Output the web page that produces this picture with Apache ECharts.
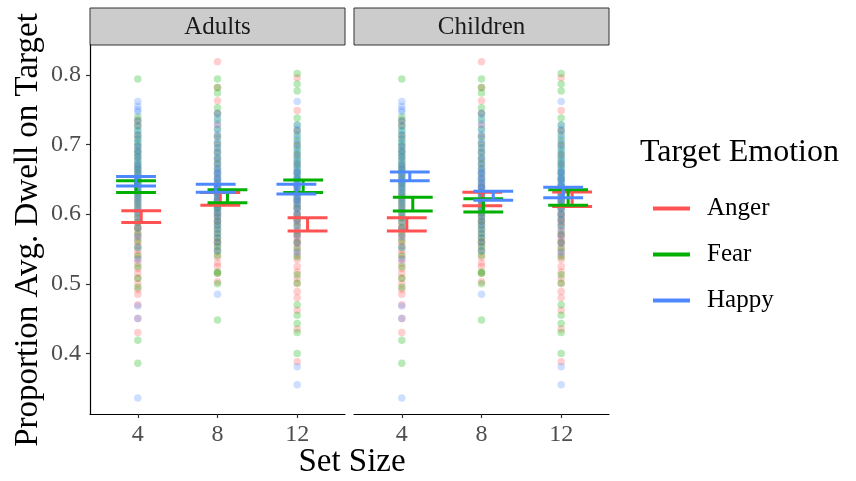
<!DOCTYPE html>
<html>
<head>
<meta charset="utf-8">
<script src="https://cdn.jsdelivr.net/npm/echarts@6/dist/echarts.min.js"></script>
<style>
  html, body { margin: 0; padding: 0; background: #fff; }
  #chart { width: 856px; height: 481px; }
</style>
</head>
<body>
<div id="chart"></div>
<script>
// set sizes on the x axis
var setSizes = [4, 8, 12];
var emotions = ['Anger', 'Fear', 'Happy'];

// raw proportions (same points are drawn in both panels)
var anger4 = [0.735, 0.728, 0.712, 0.698, 0.690, 0.682, 0.671, 0.665, 0.658, 0.650, 0.645, 0.638, 0.630, 0.624, 0.618, 0.612, 0.606, 0.600, 0.594, 0.588, 0.582, 0.576, 0.570, 0.566, 0.560, 0.555, 0.548, 0.542, 0.536, 0.530, 0.522, 0.515, 0.508, 0.500, 0.492, 0.485, 0.470, 0.450, 0.430, 0.580];
var anger8 = [0.819, 0.782, 0.763, 0.745, 0.728, 0.712, 0.700, 0.690, 0.680, 0.672, 0.664, 0.657, 0.650, 0.644, 0.638, 0.632, 0.626, 0.620, 0.614, 0.608, 0.602, 0.596, 0.590, 0.584, 0.578, 0.572, 0.566, 0.560, 0.553, 0.546, 0.538, 0.530, 0.525, 0.515, 0.503, 0.560, 0.600, 0.640, 0.620, 0.590];
var anger12 = [0.796, 0.749, 0.720, 0.700, 0.685, 0.672, 0.660, 0.650, 0.640, 0.632, 0.624, 0.616, 0.608, 0.600, 0.594, 0.588, 0.582, 0.576, 0.570, 0.564, 0.558, 0.552, 0.546, 0.541, 0.535, 0.525, 0.517, 0.508, 0.500, 0.489, 0.480, 0.462, 0.435, 0.388, 0.600, 0.610, 0.570, 0.590, 0.620, 0.560];
var fear4 = [0.794, 0.740, 0.733, 0.726, 0.720, 0.714, 0.708, 0.703, 0.698, 0.692, 0.688, 0.683, 0.678, 0.673, 0.668, 0.664, 0.660, 0.655, 0.650, 0.646, 0.642, 0.637, 0.632, 0.627, 0.621, 0.615, 0.609, 0.602, 0.595, 0.588, 0.580, 0.572, 0.562, 0.552, 0.540, 0.525, 0.508, 0.495, 0.419, 0.386];
var fear8 = [0.794, 0.782, 0.774, 0.753, 0.744, 0.735, 0.722, 0.712, 0.703, 0.695, 0.688, 0.680, 0.673, 0.666, 0.659, 0.652, 0.645, 0.638, 0.632, 0.626, 0.620, 0.614, 0.608, 0.602, 0.596, 0.590, 0.584, 0.578, 0.572, 0.566, 0.560, 0.554, 0.548, 0.541, 0.517, 0.515, 0.500, 0.448, 0.610, 0.630];
var fear12 = [0.802, 0.787, 0.777, 0.738, 0.728, 0.720, 0.712, 0.705, 0.698, 0.692, 0.686, 0.680, 0.675, 0.670, 0.665, 0.660, 0.655, 0.650, 0.645, 0.640, 0.635, 0.630, 0.625, 0.620, 0.614, 0.608, 0.600, 0.592, 0.583, 0.572, 0.560, 0.550, 0.539, 0.513, 0.501, 0.470, 0.455, 0.443, 0.430, 0.400];
var happy4 = [0.762, 0.755, 0.750, 0.747, 0.735, 0.727, 0.720, 0.714, 0.708, 0.702, 0.697, 0.692, 0.687, 0.682, 0.677, 0.672, 0.668, 0.664, 0.660, 0.656, 0.652, 0.648, 0.644, 0.640, 0.636, 0.632, 0.627, 0.622, 0.617, 0.611, 0.605, 0.598, 0.590, 0.580, 0.568, 0.552, 0.535, 0.468, 0.450, 0.336];
var happy8 = [0.745, 0.738, 0.730, 0.722, 0.715, 0.708, 0.701, 0.695, 0.689, 0.683, 0.677, 0.671, 0.666, 0.661, 0.656, 0.651, 0.646, 0.641, 0.637, 0.633, 0.628, 0.623, 0.618, 0.613, 0.608, 0.603, 0.598, 0.592, 0.586, 0.580, 0.573, 0.566, 0.558, 0.548, 0.485, 0.640, 0.650, 0.630, 0.620, 0.660];
var happy12 = [0.762, 0.728, 0.722, 0.715, 0.708, 0.701, 0.695, 0.689, 0.683, 0.677, 0.672, 0.667, 0.662, 0.657, 0.652, 0.648, 0.644, 0.640, 0.636, 0.632, 0.628, 0.624, 0.619, 0.614, 0.609, 0.604, 0.598, 0.592, 0.585, 0.577, 0.568, 0.558, 0.545, 0.381, 0.355, 0.650, 0.640, 0.630, 0.660, 0.620];

// error bars: [jittered set size, lower, upper]
var adultsAngerBar = [[4.17, 0.588, 0.605], [8.14, 0.613, 0.631], [12.52, 0.576, 0.595]];
var adultsFearBar  = [[3.91, 0.631, 0.648], [8.50, 0.6165, 0.635], [12.30, 0.631, 0.649]];
var adultsHappyBar = [[3.91, 0.6405, 0.654], [7.91, 0.6315, 0.643], [11.96, 0.629, 0.643]];
var childAngerBar  = [[4.25, 0.576, 0.595], [8.04, 0.612, 0.6315], [12.55, 0.611, 0.632]];
var childFearBar   = [[4.55, 0.6046, 0.6243], [8.09, 0.603, 0.622], [12.35, 0.613, 0.635]];
var childHappyBar  = [[4.40, 0.648, 0.6606], [8.59, 0.620, 0.633], [12.10, 0.6237, 0.6386]];

var yTicks = [0.4, 0.5, 0.6, 0.7, 0.8];

var colors = { Anger: '#FF5252', Fear: '#00B000', Happy: '#4D88FF' };
var points = { Anger: [anger4, anger8, anger12], Fear: [fear4, fear8, fear12], Happy: [happy4, happy8, happy12] };
var bars = [
  { Anger: adultsAngerBar, Fear: adultsFearBar, Happy: adultsHappyBar },
  { Anger: childAngerBar, Fear: childFearBar, Happy: childHappyBar }
];

var serif = '"Liberation Serif", "DejaVu Serif", serif';

function renderBar(params, api) {
  var x = api.value(0), lo = api.value(1), hi = api.value(2);
  var l = api.coord([x - 1, lo]), r = api.coord([x + 1, hi]);
  var m = api.coord([x, lo]), n = api.coord([x, hi]);
  var st = { stroke: api.visual('color'), lineWidth: 3 };
  return {
    type: 'group',
    children: [
      { type: 'line', shape: { x1: l[0], y1: l[1], x2: r[0], y2: l[1] }, style: st },
      { type: 'line', shape: { x1: l[0], y1: r[1], x2: r[0], y2: r[1] }, style: st },
      { type: 'line', shape: { x1: m[0], y1: m[1], x2: n[0], y2: n[1] }, style: st }
    ]
  };
}

var series = [];
[0, 1].forEach(function (g) {
  emotions.forEach(function (e) {
    var d = [];
    setSizes.forEach(function (s, i) {
      points[e][i].forEach(function (v) { d.push([s, v]); });
    });
    series.push({
      name: e, type: 'scatter', xAxisIndex: g, yAxisIndex: g,
      symbolSize: 7.5, data: d, z: 2, silent: true,
      itemStyle: { color: colors[e], opacity: 0.28 }
    });
  });
});
[0, 1].forEach(function (g) {
  emotions.forEach(function (e) {
    series.push({
      name: e, type: 'custom', xAxisIndex: g, yAxisIndex: g,
      renderItem: renderBar, data: bars[g][e], z: 5,
      itemStyle: { color: colors[e] }
    });
  });
});

function xAxisFor(g) {
  return {
    type: 'value', gridIndex: g, min: 1.6, max: 14.4,
    splitLine: { show: false },
    axisLine: { lineStyle: { color: '#000', width: 1.2 } },
    axisTick: { customValues: setSizes, length: 4, lineStyle: { color: '#333', width: 1.2 } },
    axisLabel: { customValues: setSizes, color: '#4D4D4D', fontFamily: serif, fontSize: 24, margin: 9 }
  };
}
function yAxisFor(g) {
  return {
    type: 'value', gridIndex: g, min: 0.313, max: 0.843,
    splitLine: { show: false },
    axisLine: { show: g === 0, lineStyle: { color: '#000', width: 1.2 } },
    axisTick: { show: g === 0, customValues: yTicks, length: 4, lineStyle: { color: '#333', width: 1.2 } },
    axisLabel: {
      show: g === 0, customValues: yTicks, color: '#4D4D4D', fontFamily: serif, fontSize: 24, margin: 9,
      formatter: function (v) { return v.toFixed(1); }
    }
  };
}

var chart = echarts.init(document.getElementById('chart'));
chart.setOption({
  animation: false,
  title: {
    text: 'Target Emotion', left: 635, top: 132,
    textStyle: { fontFamily: serif, fontSize: 32, fontWeight: 'normal', color: '#000' }
  },
  legend: {
    orient: 'vertical', left: 648, top: 191, itemWidth: 37, itemHeight: 4, itemGap: 21,
    selectedMode: false,
    data: emotions.map(function (e) {
      return { name: e, icon: 'rect', itemStyle: { color: colors[e], opacity: 1 } };
    }),
    textStyle: { fontFamily: serif, fontSize: 25, color: '#000', padding: [0, 0, 0, 12], lineHeight: 25 }
  },
  grid: [
    { left: 90, top: 45, width: 255, bottom: 67 },
    { left: 354, top: 45, width: 255, bottom: 67 }
  ],
  xAxis: [xAxisFor(0), xAxisFor(1)],
  yAxis: [yAxisFor(0), yAxisFor(1)],
  graphic: [
    { type: 'rect', shape: { x: 90, y: 8, width: 255, height: 37 }, style: { fill: '#CCCCCC', stroke: '#333', lineWidth: 1 } },
    { type: 'rect', shape: { x: 354, y: 8, width: 255, height: 37 }, style: { fill: '#CCCCCC', stroke: '#333', lineWidth: 1 } },
    { type: 'text', x: 217.5, y: 27, style: { text: 'Adults', font: '25px ' + serif, fill: '#1A1A1A', textAlign: 'center', textVerticalAlign: 'middle' } },
    { type: 'text', x: 481.5, y: 27, style: { text: 'Children', font: '25px ' + serif, fill: '#1A1A1A', textAlign: 'center', textVerticalAlign: 'middle' } },
    { type: 'text', x: 352, y: 462, style: { text: 'Set Size', font: '33px ' + serif, fill: '#000', textAlign: 'center', textVerticalAlign: 'middle' } },
    { type: 'text', x: 28, y: 230, rotation: Math.PI / 2, style: { text: 'Proportion Avg. Dwell on Target', font: '33px ' + serif, fill: '#000', textAlign: 'center', textVerticalAlign: 'middle' } }
  ],
  series: series
});
</script>
</body>
</html>
